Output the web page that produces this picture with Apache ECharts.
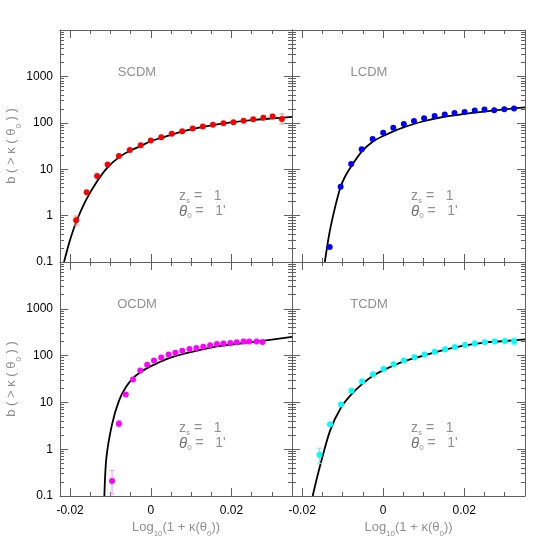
<!DOCTYPE html>
<html>
<head>
<meta charset="utf-8">
<script src="https://cdn.jsdelivr.net/npm/echarts@6/dist/echarts.min.js"></script>
<style>
  html, body { margin: 0; padding: 0; background: #fff; }
  #main { width: 554px; height: 554px; }
</style>
</head>
<body>
<div id="main"></div>
<script>
// ---- data ----
const scdmX = [-0.0185, -0.0159, -0.0133, -0.0107, -0.0079, -0.0052, -0.0025, 0.0, 0.0026, 0.0052, 0.0078,
  0.0104, 0.0129, 0.0154, 0.018, 0.0205, 0.023, 0.0254, 0.0279, 0.0302, 0.0325];
const scdmY = [0.79, 3.2, 7.1, 12.7, 19.2, 25.9, 33, 41.5, 49, 58, 66, 75, 83, 91, 98, 103, 111, 119, 128, 136, 121];
const scdmCurveX = [-0.0215, -0.02, -0.0185, -0.016, -0.0133, -0.0107, -0.0079, -0.0052, -0.0025, 0, 0.005, 0.01,
  0.015, 0.02, 0.025, 0.03, 0.035];
const scdmCurveY = [0.1, 0.3, 0.72, 2.2, 5.5, 11, 18, 25, 31.5, 40, 55, 72, 88, 102, 114, 124, 134];
const scdmErr = [[-0.0185, 0.62, 0.98], [0.0254, 112, 127], [0.0279, 118, 140], [0.0302, 122, 152], [0.0325, 94, 155]];

const lcdmX = [-0.0132, -0.0105, -0.0079, -0.0053, -0.0026, 0, 0.0025, 0.0051, 0.0076, 0.0101, 0.0127, 0.0152,
  0.0176, 0.0201, 0.0226, 0.025, 0.0274, 0.0299, 0.0323];
const lcdmY = [0.21, 4.2, 12.9, 27, 45, 61, 78, 94, 110, 126, 141, 151, 162, 170, 184, 193, 187, 197, 203];
const lcdmCurveX = [-0.0144, -0.0132, -0.0118, -0.0105, -0.0092, -0.0079, -0.0053, -0.0026, 0, 0.005, 0.01, 0.015,
  0.02, 0.025, 0.03, 0.035];
const lcdmCurveY = [0.1, 0.45, 1.6, 4.2, 7.5, 11.5, 24, 39, 52, 80, 108, 135, 155, 175, 195, 215];
const lcdmErr = [];

const ocdmX = [-0.0096, -0.0079, -0.0062, -0.0044, -0.0026, -0.0009, 0.0008, 0.0026, 0.0044, 0.0061, 0.0078,
  0.0096, 0.0113, 0.013, 0.0147, 0.0164, 0.018, 0.0197, 0.0213, 0.023, 0.0244, 0.0262, 0.0277];
const ocdmY = [0.21, 3.5, 14.7, 31, 48, 64, 79, 91, 105, 115, 127, 138, 145, 155, 166, 178, 182, 186, 192, 199,
  199, 199, 195];
const ocdmCurveX = [-0.0115, -0.011, -0.0096, -0.0079, -0.0062, -0.0044, -0.0026, -0.0009, 0.0008, 0.0044, 0.0096,
  0.0164, 0.0262, 0.035];
const ocdmCurveY = [0.1, 0.66, 3.4, 10.8, 21, 33, 44, 54, 64, 87, 117, 158, 199, 251];
const ocdmErr = [[-0.0096, 0.11, 0.35], [-0.0079, 3.0, 4.1], [0.0277, 180, 212]];

const tcdmX = [-0.0157, -0.0131, -0.0104, -0.0078, -0.0052, -0.0025, 0.0001, 0.0026, 0.0051, 0.0077, 0.0102,
  0.0127, 0.0153, 0.0177, 0.0202, 0.0226, 0.0251, 0.0275, 0.03, 0.0323];
const tcdmY = [0.76, 3.4, 9.0, 17.7, 28, 40, 52, 65, 79, 92, 105, 121, 136, 152, 169, 182, 192, 200, 206, 202];
const tcdmCurveX = [-0.0174, -0.0157, -0.0131, -0.0104, -0.0078, -0.0052, -0.0025, 0.0001, 0.0051, 0.0102, 0.0153,
  0.0202, 0.025, 0.03, 0.035];
const tcdmCurveY = [0.1, 0.4, 2.5, 7.8, 15, 24.6, 37, 49, 75, 101, 134, 165, 190, 205, 222];
const tcdmErr = [[-0.0157, 0.5, 1.05], [0.0275, 190, 212], [0.03, 192, 222], [0.0323, 170, 238]];

// ---- axes / ticks ----
const X_MIN = -0.0225, X_MAX = 0.035;
const xMajorTicks = [-0.02, 0, 0.02];
const xMinorTicks = [-0.015, -0.01, -0.005, 0.005, 0.01, 0.015, 0.025, 0.03];
const yTickLabels = [0.1, 1, 10, 100, 1000];
const yDecadesLog = [-1, 0, 1, 2, 3, 4];
const yMinorMult = [2, 3, 4, 5, 6, 7, 8, 9];

const FONT = 'Liberation Sans, Arial, Helvetica, sans-serif';
const FRAME = '#606060';
const GRAY_TEXT = '#909090';

const grids = [
  { left: 60, top: 30, width: 232, height: 232 },
  { left: 292, top: 30, width: 233, height: 232 },
  { left: 60, top: 262, width: 232, height: 234 },
  { left: 292, top: 262, width: 233, height: 234 },
];

const panels = [
  { name: 'SCDM', color: '#ff0000', errColor: '#ff8c8c', x: scdmX, y: scdmY, cx: scdmCurveX, cy: scdmCurveY, err: scdmErr },
  { name: 'LCDM', color: '#0000ff', errColor: '#8c8cff', x: lcdmX, y: lcdmY, cx: lcdmCurveX, cy: lcdmCurveY, err: lcdmErr },
  { name: 'OCDM', color: '#ff00ff', errColor: '#ff8cff', x: ocdmX, y: ocdmY, cx: ocdmCurveX, cy: ocdmCurveY, err: ocdmErr },
  { name: 'TCDM', color: '#00ffff', errColor: '#66f0f0', x: tcdmX, y: tcdmY, cx: tcdmCurveX, cy: tcdmCurveY, err: tcdmErr },
];

const yMinorLog = [];
yDecadesLog.slice(0, -1).forEach((d) => yMinorMult.forEach((m) => yMinorLog.push(d + Math.log10(m))));

function zip(xs, ys) {
  return xs.map((x, i) => [x, ys[i]]);
}

const subRich = {
  n: { fontSize: 13, lineHeight: 17, verticalAlign: 'top', color: GRAY_TEXT, fontFamily: FONT },
  s: { fontSize: 8, lineHeight: 8, verticalAlign: 'bottom', color: GRAY_TEXT, fontFamily: FONT },
};

const lineStyle = { color: FRAME, width: 1 };

function decoAxis(g, position, ticks, len, showLine, isY) {
  return {
    gridIndex: g,
    type: 'value',
    position: position,
    min: isY ? -1 : X_MIN,
    max: isY ? 4 : X_MAX,
    axisLine: { show: showLine, onZero: false, lineStyle: lineStyle },
    axisTick: { show: true, inside: true, length: len, customValues: ticks, lineStyle: lineStyle },
    axisLabel: { show: false },
    splitLine: { show: false },
  };
}

const xAxes = [], yAxes = [], series = [], graphics = [];

panels.forEach((p, g) => {
  const bottomRow = g >= 2;
  const leftCol = g % 2 === 0;
  const gr = grids[g];

  xAxes.push({
    gridIndex: g,
    type: 'value',
    position: 'bottom',
    min: X_MIN,
    max: X_MAX,
    axisLine: { show: true, onZero: false, lineStyle: lineStyle },
    axisTick: { show: true, inside: true, length: 8, customValues: xMajorTicks, lineStyle: lineStyle },
    axisLabel: {
      show: bottomRow,
      customValues: xMajorTicks,
      color: '#000',
      fontSize: 12,
      fontFamily: FONT,
      margin: 9,
      formatter: (v) => String(v),
    },
    splitLine: { show: false },
    name: bottomRow ? '{n|Log}{s|10}{n|(1 + κ(θ}{s|0}{n|))}' : '',
    nameLocation: 'middle',
    nameGap: 25,
    nameTextStyle: { rich: subRich },
  });
  xAxes.push(decoAxis(g, 'bottom', xMinorTicks, 4, false, false));
  xAxes.push(decoAxis(g, 'top', xMajorTicks, 8, true, false));
  xAxes.push(decoAxis(g, 'top', xMinorTicks, 4, false, false));

  yAxes.push({
    gridIndex: g,
    type: 'log',
    logBase: 10,
    position: 'left',
    min: 0.1,
    max: 10000,
    interval: 1,
    axisLine: { show: true, onZero: false, lineStyle: lineStyle },
    axisTick: { show: false },
    axisLabel: {
      show: leftCol,
      color: '#000',
      fontSize: 12,
      fontFamily: FONT,
      margin: 7,
      formatter: (v) => (yTickLabels.includes(+v) ? String(+v) : ''),
    },
    splitLine: { show: false },
    name: leftCol ? '{n|b ( > κ ( θ}{s|0}{n| ) )}' : '',
    nameLocation: 'middle',
    nameGap: 36,
    nameTextStyle: { rich: subRich },
  });
  yAxes.push(decoAxis(g, 'left', yDecadesLog, 8, false, true));
  yAxes.push(decoAxis(g, 'left', yMinorLog, 4, false, true));
  yAxes.push(decoAxis(g, 'right', yDecadesLog, 8, true, true));
  yAxes.push(decoAxis(g, 'right', yMinorLog, 4, false, true));

  const xi = g * 4, yi = g * 5;

  series.push({
    type: 'line',
    xAxisIndex: xi,
    yAxisIndex: yi,
    data: zip(p.cx, p.cy),
    smooth: 0.3,
    showSymbol: false,
    silent: true,
    clip: true,
    lineStyle: { color: '#000', width: 1.8 },
    z: 3,
  });

  const errColor = p.errColor;
  series.push({
    type: 'custom',
    xAxisIndex: xi,
    yAxisIndex: yi,
    data: p.err,
    encode: { x: 0, y: [1, 2] },
    z: 4,
    renderItem: (params, api) => {
      const x = api.value(0);
      const top = api.coord([x, api.value(2)]);
      const bot = api.coord([x, api.value(1)]);
      const w = 2.5;
      const st = { stroke: errColor, lineWidth: 1 };
      return {
        type: 'group',
        children: [
          { type: 'line', shape: { x1: top[0], y1: top[1], x2: bot[0], y2: bot[1] }, style: st },
          { type: 'line', shape: { x1: top[0] - w, y1: top[1], x2: top[0] + w, y2: top[1] }, style: st },
          { type: 'line', shape: { x1: bot[0] - w, y1: bot[1], x2: bot[0] + w, y2: bot[1] }, style: st },
        ],
      };
    },
  });

  series.push({
    type: 'scatter',
    xAxisIndex: xi,
    yAxisIndex: yi,
    data: zip(p.x, p.y),
    symbol: 'circle',
    symbolSize: 6,
    itemStyle: { color: p.color, opacity: 1 },
    z: 5,
  });

  graphics.push({
    type: 'text',
    x: gr.left + 77,
    y: gr.top + 42,
    style: {
      text: p.name,
      fill: GRAY_TEXT,
      font: '13px ' + FONT,
      textAlign: 'center',
      textVerticalAlign: 'middle',
    },
  });
  graphics.push({
    type: 'text',
    x: gr.left + 119,
    y: gr.top + 159,
    style: {
      text: '{n|z}{s|s}{n| =   1}',
      textAlign: 'left',
      rich: {
        n: { fontSize: 14, lineHeight: 16, verticalAlign: 'top', fill: GRAY_TEXT, fontFamily: FONT },
        s: { fontSize: 8, lineHeight: 8, verticalAlign: 'bottom', fill: GRAY_TEXT, fontFamily: FONT },
      },
    },
  });
  graphics.push({
    type: 'text',
    x: gr.left + 119,
    y: gr.top + 174,
    style: {
      text: '{t|θ}{s|0}{n| =   1\'}',
      textAlign: 'left',
      rich: {
        t: { fontSize: 15, lineHeight: 16, verticalAlign: 'top', fill: '#707070', fontStyle: 'italic', fontFamily: FONT },
        n: { fontSize: 14, lineHeight: 16, verticalAlign: 'top', fill: GRAY_TEXT, fontFamily: FONT },
        s: { fontSize: 8, lineHeight: 8, verticalAlign: 'bottom', fill: GRAY_TEXT, fontFamily: FONT },
      },
    },
  });
});

const chart = echarts.init(document.getElementById('main'));
chart.setOption({
  animation: false,
  backgroundColor: '#fff',
  textStyle: { fontFamily: FONT },
  grid: grids,
  xAxis: xAxes,
  yAxis: yAxes,
  series: series,
  graphic: graphics,
});
</script>
</body>
</html>
